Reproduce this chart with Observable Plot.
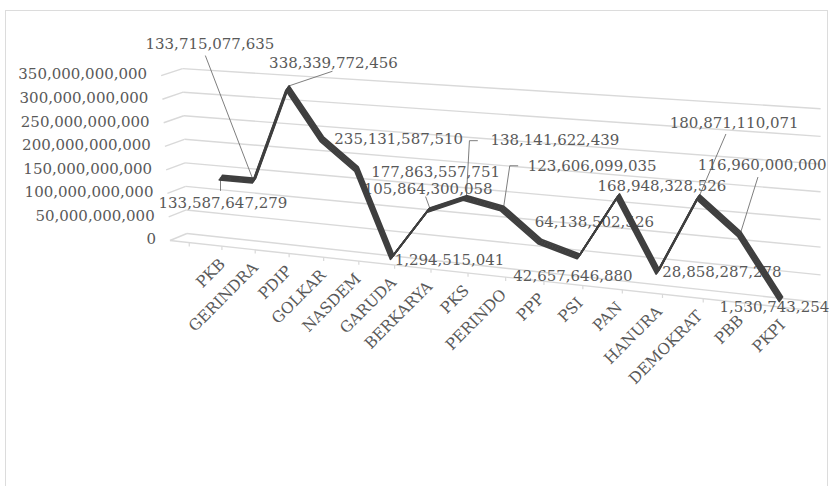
<!DOCTYPE html>
<html>
<head>
<meta charset="utf-8">
<script src="https://cdn.jsdelivr.net/npm/d3@7"></script>
<script src="https://cdn.jsdelivr.net/npm/@observablehq/plot@0.6"></script>
<style>
  body { margin: 0; background: #fff; }
  #wrap { position: relative; width: 830px; height: 486px; overflow: hidden; background: #fff; }
  #frame { position: absolute; left: 5px; top: 10px; width: 823px; height: 520px; border: 1.5px solid #dcdcdc; box-sizing: border-box; }
  #chart { position: absolute; left: 0; top: 0; }
</style>
</head>
<body>
<div id="wrap"><div id="frame"></div><div id="chart"></div></div>
<script>
// ---- data ----
const parties = ["PKB","GERINDRA","PDIP","GOLKAR","NASDEM","GARUDA","BERKARYA","PKS","PERINDO","PPP","PSI","PAN","HANURA","DEMOKRAT","PBB","PKPI"];
const amounts = [133587647279,133715077635,338339772456,235131587510,177863557751,1294515041,105864300058,138141622439,123606099035,64138502526,42657646880,168948328526,28858287278,180871110071,116960000000,1530743254];
const yTicks = [0,50e9,100e9,150e9,200e9,250e9,300e9,350e9];
const yTickLabels = ["0","50,000,000,000","100,000,000,000","150,000,000,000","200,000,000,000","250,000,000,000","300,000,000,000","350,000,000,000"];

// ---- layout: data-label offsets (px) from each point, and leader polylines ----
const labelLayout = [
  {dx:-64, dy:27.5, leader:[[-2,2.5],[-2,15]]},
  {dx:-110, dy:-134.5, leader:[[-2,2.5],[-50,-122.5]]},
  {dx:-20, dy:-22.5, leader:[[0,0],[43,-14.5]]},
  {dx:11, dy:2.5},
  {dx:13, dy:5.5},
  {dx:1, dy:5},
  {dx:-66, dy:-19, leader:[[0,0],[-4,-11]]},
  {dx:24, dy:-55, leader:[[0,0],[3,-55],[11,-55]]},
  {dx:24, dy:-40.5, leader:[[0,0],[6,-40.5],[14,-40.5]]},
  {dx:-7, dy:-17.5},
  {dx:-67, dy:21.5},
  {dx:-22, dy:-7.5},
  {dx:3, dy:2.5},
  {dx:-30, dy:-71.5, leader:[[0,0],[26,-60.5]]},
  {dx:-43, dy:-66.5, leader:[[0,0],[17,-54.5]]},
  {dx:-63, dy:10.5}
];

// ---- 3-D view (perspective of the Excel-like 3-D line chart) ----
const V = {
  cat: 32.67, unit: 0.471,            // px per category / px per billion at the left wall
  warp: 0.00952,                      // categories widen to the right
  wallU: -1.1, endU: 15.9,            // left wall and right end, in categories
  sink: 7.56, grow: 0.00908,          // floor drops and scale grows to the right
  lineScale: 0.965, lineLift: 1.3,    // ribbon plane vs back wall
  depthX: -0.52, depthY: -14.9,       // back -> front of the box
  lean: 0.27                          // left edges lean back toward the top
};
const B = 1e9;
const warp = u => u + V.warp * u * u;
const X = (u, w = 0) => warp(u) + w * V.depthX;
const Y = (u, v, w = 0, plane = 1, lift = 0) => {
  const d = warp(u) - warp(V.wallU);
  return plane * v * (1 + V.grow * d) - V.sink * d + lift + w * V.depthY;
};
const leanX = (t, w) => X(V.wallU, w) - V.lean * (0.5 + w * 0.5) * t / 350;
const lineY = i => Y(i, amounts[i] / B, 0, V.lineScale, V.lineLift);

const idx = parties.map((_, i) => i);
const tickV = yTicks.map(t => t / B);
const fmt = d3.format(",");

// leader polylines
const leaders = [];
labelLayout.forEach((L, i) => {
  if (!L.leader) return;
  L.leader.forEach(([ox, oy]) => leaders.push({i, x: X(i) + ox / V.cat, y: lineY(i) - oy / V.unit}));
});

// ribbon: the same line repeated across its depth
const ribbon = [0, 0.2, 0.4, 0.6, 0.8, 1].map(t =>
  Plot.line(idx, {x: i => X(i), y: lineY, stroke: "#3f3f3f", strokeWidth: 1.7,
                  strokeLinejoin: "round", dx: -3.2 * t, dy: 4.5 * t}));

const grid = "#d9d9d9";
const chart = Plot.plot({
  width: 830, height: 486,
  marginLeft: 0, marginRight: 0, marginTop: 0, marginBottom: 0,
  x: {domain: [0, 15], range: [222, 222 + 15 * V.cat], axis: null},
  y: {domain: [0, 350], range: [233, 233 - 350 * V.unit], axis: null},
  style: {fontFamily: "'DejaVu Serif', serif", fontSize: "15px", color: "#595959", background: "transparent"},
  marks: [
    // back wall gridlines
    Plot.link(tickV, {x1: t => leanX(t, 0), y1: t => Y(V.wallU, t), x2: X(V.endU), y2: t => Y(V.endU, t),
                      stroke: grid, strokeWidth: 1.4}),
    // side wall
    Plot.link(tickV, {x1: t => leanX(t, 1), y1: t => Y(V.wallU, t, 1), x2: t => leanX(t, 0), y2: t => Y(V.wallU, t),
                      stroke: grid, strokeWidth: 1.4}),
    // floor front edge
    Plot.link([0], {x1: X(V.wallU, 1), y1: Y(V.wallU, 0, 1), x2: X(V.endU, 1), y2: Y(V.endU, 0, 1),
                    stroke: grid, strokeWidth: 1.4}),
    // category tick marks
    Plot.link(d3.range(-1, 16), {x1: u => X(u + 0.5, 1), y1: u => Y(u + 0.5, 0, 1),
                                 x2: u => X(u + 0.5, 1), y2: u => Y(u + 0.5, 0, 1) - 8,
                                 stroke: grid, strokeWidth: 1.2}),
    // y-axis labels
    Plot.text(tickV, {x: t => leanX(t, 1), y: t => Y(V.wallU, t, 1), text: (t, i) => yTickLabels[i],
                      textAnchor: "end", dx: -14, dy: -1}),
    // category labels
    Plot.text(idx, {x: i => X(i, 1), y: i => Y(i, 0, 1), text: i => parties[i],
                    rotate: -45, textAnchor: "end", dx: 17, dy: 17, fontSize: 15.5}),
    // leaders
    Plot.line(leaders, {x: "x", y: "y", z: "i", stroke: "#6f6f6f", strokeWidth: 0.9}),
    // data labels
    Plot.text(idx, {x: i => X(i) + labelLayout[i].dx / V.cat, y: i => lineY(i) - labelLayout[i].dy / V.unit,
                    text: i => fmt(amounts[i]), textAnchor: "start"}),
    ...ribbon
  ]
});
document.getElementById("chart").appendChild(chart);
</script>
</body>
</html>
